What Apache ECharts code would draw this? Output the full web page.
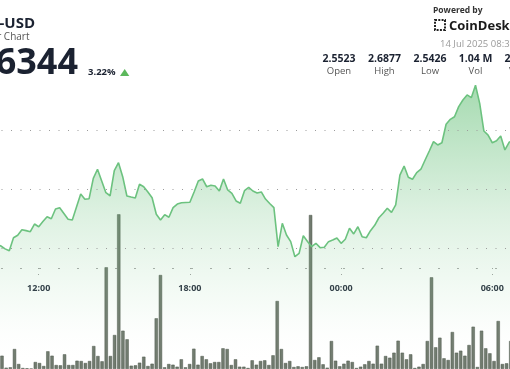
<!DOCTYPE html>
<html><head><meta charset="utf-8">
<script src="https://cdn.jsdelivr.net/npm/echarts@6/dist/echarts.min.js"></script>
<style>html,body{margin:0;padding:0;background:#fff;overflow:hidden}#c{width:510px;height:369px}</style>
</head><body><div id="c"></div><script>
// ---- data ----
const pair = 'XRP-USD';
const subtitle = '24 Hour Chart';
const lastPrice = '2.6344';
const changePct = '3.22%';
const stampText = '14 Jul 2025 08:37';
const statValues = ['2.5523', '2.6877', '2.5426', '1.04 M', '2.6103'];
const statLabels = ['Open', 'High', 'Low', 'Vol', 'Vwap'];
const tickMinutes = [720, 1080, 1440, 1800];
const tickLabels = ['12:00', '18:00', '00:00', '06:00'];
const gridValues = [2.55, 2.60, 2.65];
// price every 10 minutes, starting 10:20 on 13 Jul (minute 620 of the day)
const priceStart = 620, stepMin = 10;
const prices = [
 2.5531,2.5518,2.5494,2.5478,2.5588,2.5609,2.5656,2.5648,2.5639,2.5704,
 2.5681,2.5725,2.5766,2.5749,2.5831,2.5842,2.5793,2.5744,2.5738,2.5848,
 2.5958,2.5913,2.5918,2.6090,2.6167,2.6068,2.5969,2.5943,2.6155,2.6222,
 2.6104,2.5941,2.5932,2.5924,2.6040,2.6019,2.5975,2.5926,2.5786,2.5738,
 2.5783,2.5761,2.5842,2.5873,2.5884,2.5886,2.5888,2.5975,2.6068,2.6085,
 2.6019,2.6031,2.6025,2.5983,2.6085,2.5992,2.5964,2.5899,2.5879,2.5986,
 2.6014,2.5983,2.5966,2.5975,2.5915,2.5877,2.5842,2.5512,2.5710,2.5611,
 2.5555,2.5428,2.5456,2.5605,2.5556,2.5512,2.5541,2.5504,2.5507,2.5555,
 2.5569,2.5586,2.5541,2.5575,2.5668,2.5620,2.5681,2.5597,2.5588,2.5648,
 2.5693,2.5757,2.5795,2.5837,2.5803,2.5865,2.6118,2.6194,2.6099,2.6082,
 2.6138,2.6167,2.6245,2.6321,2.6400,2.6372,2.6391,2.6547,2.6589,2.6611,
 2.6696,2.6752,2.6795,2.6772,2.6877,2.6724,2.6490,2.6456,2.6391,2.6408,
 2.6448,2.6330,2.6395,2.6414
];
// volume (thousands) every 10 minutes, starting 10:30
const volStart = 630;
const volumes = [
 13.3,1.3,1.7,20,5,1,0.7,0.3,7,6,
 3,17.7,13.3,4,3.7,14.7,4,4,8.3,8,
 6,8,23,13,7.7,101.7,13,34,154.7,38.3,
 29.7,3.3,3.7,6.3,12.3,3,5.3,50.7,94,1.7,
 5,4.3,2.3,9.7,1.7,5,20.3,4.3,13,9.7,
 5.7,7,7,20.7,20,4,9.7,2.3,2.3,1,
 8.7,4.3,8,8.7,4,13.7,68,20,6,8,
 2,2.7,2,2.7,154,9,11.7,4.7,1.3,28,
 8.3,2.7,5.3,8.3,7,1,2.3,4.7,8,5.3,
 23.3,5.3,13,11.3,16.3,28.3,16.3,9.7,14.7,1,
 2.3,5,28,91.7,21.7,31.3,10.7,9,37,16.3,
 18.3,13.3,24,42.3,2,38.3,20.7,15.7,8,48,
 5,5.7,28
];

// ---- build ----
const lineData = prices.map((p, i) => [priceStart + i * stepMin, p]);
const volData = volumes.map((v, i) => [volStart + i * stepMin, v]);
const FONT = "'Open Sans','Liberation Sans',sans-serif";
const DARK = '#1b2231';

const graphics = [
  {type:'text', x:35, y:23.5, style:{text:pair, font:'bold 15px '+FONT, fill:DARK, align:'right', verticalAlign:'middle'}},
  {type:'text', x:29.5, y:36.8, style:{text:subtitle, font:'10px '+FONT, fill:'#555', align:'right', verticalAlign:'middle'}},
  {type:'text', x:78, y:63.5, style:{text:lastPrice, font:'bold 36px '+FONT, fill:DARK, align:'right', verticalAlign:'middle'}},
  {type:'text', x:88, y:72.5, style:{text:changePct, font:'bold 9.5px '+FONT, fill:DARK, align:'left', verticalAlign:'middle'}},
  {type:'polygon', shape:{points:[[120,76],[124.7,69],[129.3,76]]}, style:{fill:'#5cb85c'}},
  {type:'text', x:433, y:10.5, style:{text:'Powered by', font:'bold 8.5px '+FONT, fill:'#333', align:'left', verticalAlign:'middle'}},
  {type:'rect', shape:{x:435, y:20, width:10, height:10}, style:{fill:'none', stroke:'#222', lineWidth:2, lineDash:[2,1.3]}},
  {type:'text', x:449, y:26, style:{text:'CoinDesk', font:'bold 13px '+FONT, fill:'#1a1a1a', align:'left', verticalAlign:'middle'}},
  {type:'text', x:440, y:44.3, style:{text:stampText, font:'9.5px '+FONT, fill:'#9a9a9a', align:'left', verticalAlign:'middle'}}
];
statValues.forEach((v, i) => {
  graphics.push({type:'text', x:339 + 45.5*i, y:59.2, style:{text:v, font:'bold 10.5px '+FONT, fill:DARK, align:'center', verticalAlign:'middle'}});
  graphics.push({type:'text', x:339 + 45.5*i, y:70.8, style:{text:statLabels[i], font:'9.5px '+FONT, fill:'#555', align:'center', verticalAlign:'middle'}});
});

const chart = echarts.init(document.getElementById('c'), null, {renderer:'canvas'});
chart.setOption({
  animation:false,
  backgroundColor:'#fff',
  grid:[
    {left:-112.5, right:-133.5, top:11.55, bottom:2.55, containLabel:false, outerBoundsMode:'none'},
    {left:-110.6, right:-130, top:169, bottom:0, containLabel:false, outerBoundsMode:'none'},
    {left:-112.5, right:-133.5, top:150, bottom:101, containLabel:false, outerBoundsMode:'none'}
  ],
  xAxis:[
    {type:'value', gridIndex:0, min:360, max:2160, show:false},
    {type:'value', gridIndex:1, min:360, max:2160, show:false},
    {type:'value', gridIndex:2, min:360, max:2160, interval:360,
     axisLine:{show:true, lineStyle:{color:'#a0a0a0', width:1, type:[1,18]}},
     axisTick:{show:true, length:7, lineStyle:{color:'#a0a0a0', width:1, type:[1,5]}},
     splitLine:{show:false},
     axisLabel:{margin:16, fontFamily:"'Open Sans',sans-serif", fontWeight:'bold', fontSize:9, color:'#2a3140',
       formatter:(v)=>{const k = tickMinutes.indexOf(v); return k >= 0 ? tickLabels[k] : '';}}}
  ],
  yAxis:[
    {type:'value', gridIndex:0, min:2.45, max:2.75, show:false},
    {type:'value', gridIndex:1, min:0, max:200, show:false},
    {type:'value', gridIndex:2, min:0, max:1, show:false}
  ],
  series:[
    {type:'line', xAxisIndex:0, yAxisIndex:0, data:lineData, symbol:'none', showSymbol:false,
     lineStyle:{color:'#6cc27f', width:1.6},
     areaStyle:{color:new echarts.graphic.LinearGradient(0,0,0,1,[
       {offset:0, color:'rgba(96,190,115,0.8)'},
       {offset:0.45, color:'rgba(110,195,128,0.34)'},
       {offset:0.8, color:'rgba(140,210,155,0.09)'},
       {offset:1, color:'rgba(255,255,255,0)'}])},
     markLine:{silent:true, symbol:'none', label:{show:false},
       lineStyle:{color:'#9c9c9c', width:1, type:[1,8.5]},
       data:gridValues.map(v=>({yAxis:v}))}
    },
    {type:'bar', xAxisIndex:1, yAxisIndex:1, data:volData, barWidth:3.3,
     itemStyle:{color:'#717b6f', borderColor:'#4c564b', borderWidth:0.5}}
  ],
  graphic:graphics
});
</script></body></html>
